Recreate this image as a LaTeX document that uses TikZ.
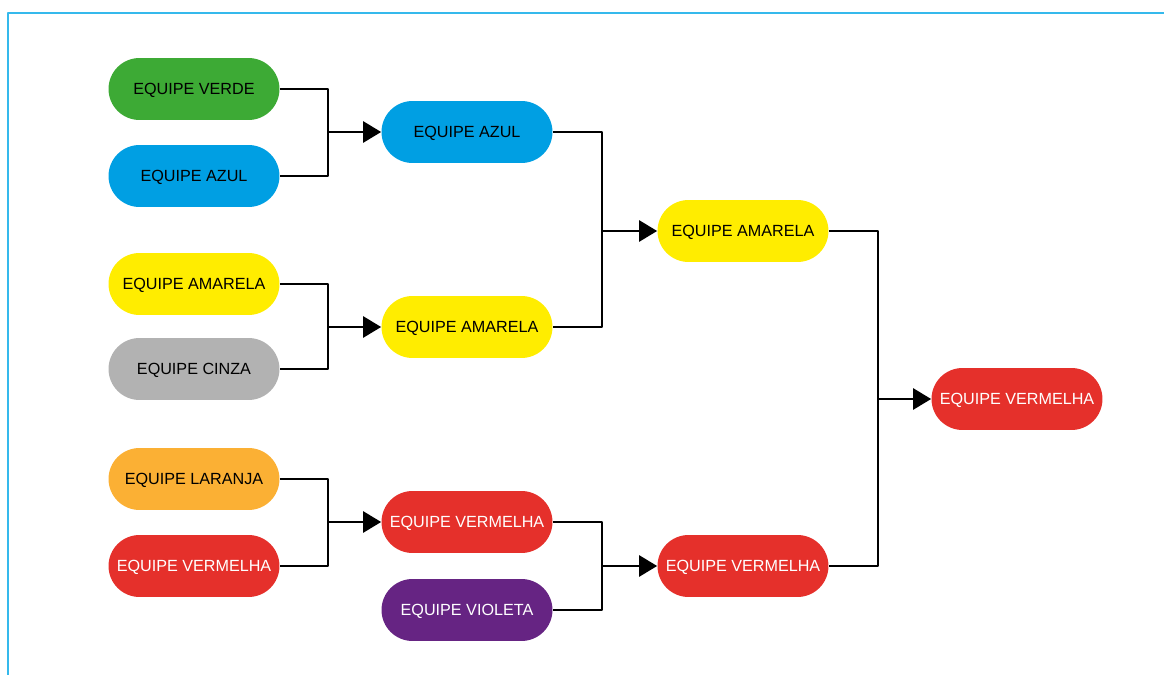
\documentclass[tikz,border=0pt]{standalone}
\usepackage{fontspec}
\setmainfont{Liberation Sans}
\usetikzlibrary{arrows.meta}
\definecolor{frameblue}{HTML}{35B9EC}
\definecolor{tverde}{HTML}{3DAA35}
\definecolor{tazul}{HTML}{009FE3}
\definecolor{tamarela}{HTML}{FFED00}
\definecolor{tcinza}{HTML}{B2B2B2}
\definecolor{tlaranja}{HTML}{FBB034}
\definecolor{tvermelha}{HTML}{E5302B}
\definecolor{tvioleta}{HTML}{662483}
\begin{document}
\begin{tikzpicture}[x=0.02cm,y=-0.02cm,line join=round,
  team/.style={rounded corners=0.62cm,minimum width=3.42cm,minimum height=1.24cm,
    inner sep=0pt,text height=6.6pt,text depth=0pt,font=\fontsize{9.2}{11}\selectfont},
  dark/.style={team,fill=#1,text=black},
  light/.style={team,fill=#1,text=white},
  link/.style={line width=1.4pt},
  win/.style={link,-{Triangle[length=0.36cm,width=0.42cm]}}]
\useasboundingbox (0,0) rectangle (1164,675);
\draw[frameblue,line width=1.2pt] (8,675)--(8,13)--(1164,13);
% first round
\node[dark=tverde] (verde) at (194,89) {EQUIPE VERDE};
\node[dark=tazul] (azul) at (194,176) {EQUIPE AZUL};
\node[dark=tamarela] (amarela) at (194,284) {EQUIPE AMARELA};
\node[dark=tcinza] (cinza) at (194,369) {EQUIPE CINZA};
\node[dark=tlaranja] (laranja) at (194,479) {EQUIPE LARANJA};
\node[light=tvermelha] (vermelha) at (194,566) {EQUIPE VERMELHA};
% second round
\node[dark=tazul] (azulB) at (467,132) {EQUIPE AZUL};
\node[dark=tamarela] (amarelaB) at (467,327) {EQUIPE AMARELA};
\node[light=tvermelha] (vermelhaB) at (467,522) {EQUIPE VERMELHA};
\node[light=tvioleta] (violeta) at (467,610) {EQUIPE VIOLETA};
% semifinal and final
\node[dark=tamarela] (amarelaC) at (743,231) {EQUIPE AMARELA};
\node[light=tvermelha] (vermelhaC) at (743,566) {EQUIPE VERMELHA};
\node[light=tvermelha] (campea) at (1017,399) {EQUIPE VERMELHA};
\coordinate (j1) at (328,132);
\coordinate (j2) at (328,327);
\coordinate (j3) at (328,522);
\coordinate (j4) at (602,231);
\coordinate (j5) at (602,566);
\coordinate (j6) at (878,399);
\draw[link] (verde.east) -| (j1) |- (azul.east);
\draw[link] (amarela.east) -| (j2) |- (cinza.east);
\draw[link] (laranja.east) -| (j3) |- (vermelha.east);
\draw[link] (azulB.east) -| (j4) |- (amarelaB.east);
\draw[link] (vermelhaB.east) -| (j5) |- (violeta.east);
\draw[link] (amarelaC.east) -| (j6) |- (vermelhaC.east);
\draw[win] (j1) -- (azulB.west);
\draw[win] (j2) -- (amarelaB.west);
\draw[win] (j3) -- (vermelhaB.west);
\draw[win] (j4) -- (amarelaC.west);
\draw[win] (j5) -- (vermelhaC.west);
\draw[win] (j6) -- (campea.west);
\end{tikzpicture}
\end{document}
